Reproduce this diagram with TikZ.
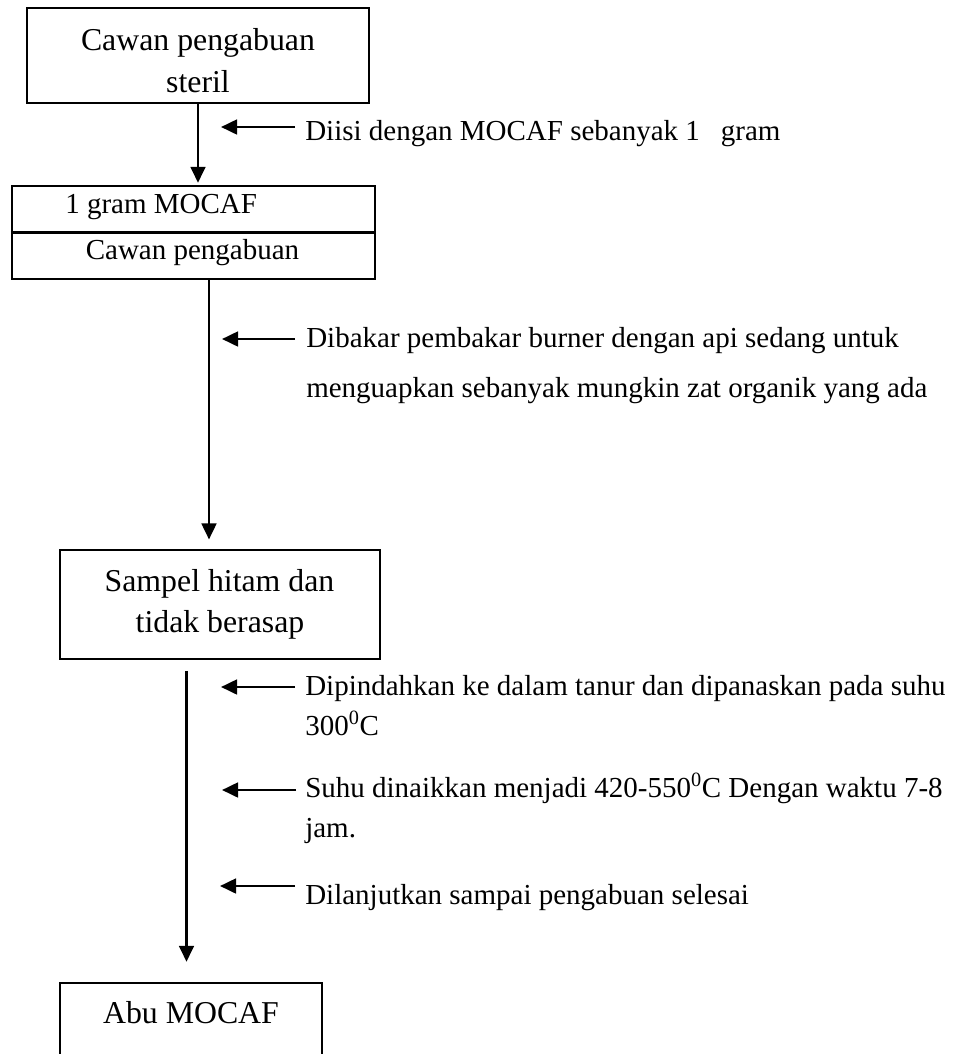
\documentclass[tikz,border=0pt]{standalone}
\usepackage{fontspec}
\setmainfont{Liberation Serif}
\usetikzlibrary{arrows.meta}
\begin{document}
\begin{tikzpicture}[x=0.75pt,y=-0.75pt,
  box/.style={draw, line width=1.8pt, rectangle, inner sep=0},
  big/.style={font=\fontsize{23.85}{28}\selectfont, inner sep=0, anchor=base},
  small/.style={font=\fontsize{21.75}{26}\selectfont, inner sep=0, anchor=base west},
  smallc/.style={font=\fontsize{21.75}{26}\selectfont, inner sep=0, anchor=base},
  flow/.style={line width=2pt, -{Triangle[length=12pt,width=11pt]}},
  side/.style={line width=2pt, -{Triangle[length=12pt,width=11pt]}}]

\useasboundingbox (0,0) rectangle (957,1054);
\clip (0,0) rectangle (957,1054);

% process boxes
\node[box, minimum width=256.5pt, minimum height=71.25pt] (b1) at (198,55.5) {};
\node[box, minimum width=272.25pt, minimum height=69.75pt] (b2) at (193.5,232.5) {};
\draw[line width=1.8pt] (b2.west) -- (b2.east);
\node[box, minimum width=240pt, minimum height=81.75pt] (b3) at (220,604.5) {};
\node[box, minimum width=196.5pt, minimum height=87.75pt] (b4) at (191,1041.5) {};

% box texts
\node[big] (b1l1) at (198,50) {Cawan pengabuan};
\node[big] (b1l2) at (198,92) {steril};
\node[small] (b2l1) at (65,213) {1 gram MOCAF};
\node[smallc] (b2l2) at (192.5,259) {Cawan pengabuan};
\node[big] (b3l1) at (219.5,591) {Sampel hitam dan};
\node[big] (b3l2) at (220,632) {tidak berasap};
\node[big] (b4l1) at (191,1023) {Abu MOCAF};

% main flow
\coordinate (a2x) at (209,0);
\coordinate (a3x) at (186.5,0);
\draw[flow] (b1.south) -- ([yshift=1.5pt]b1.south |- b2.north);
\draw[flow] (b2.south -| a2x) -- ([yshift=7pt]b3.north -| a2x);
\draw[flow] ([yshift=-8pt]b3.south -| a3x) -- ([yshift=15pt]b4.north -| a3x);

% step notes
\node[small] (n1) at (305,140) {Diisi dengan MOCAF sebanyak 1\hspace{15.75pt}gram};
\node[small] (n2a) at (306,347) {Dibakar pembakar burner dengan api sedang untuk};
\node[small] (n2b) at (306,397) {menguapkan sebanyak mungkin zat organik yang ada};
\node[small] (n3a) at (305,695) {Dipindahkan ke dalam tanur dan dipanaskan pada suhu};
\node[small] (n3b) at (305,735) {300\textsuperscript{0}C};
\node[small] (n4a) at (305,797) {Suhu dinaikkan menjadi 420-550\textsuperscript{0}C Dengan waktu 7-8};
\node[small] (n4b) at (305,837) {jam.};
\node[small] (n5) at (305,904) {Dilanjutkan sampai pengabuan selesai};

% note arrows
\coordinate (s1) at (295,127); \coordinate (e1) at (221,127);
\coordinate (s2) at (295,339); \coordinate (e2) at (222,339);
\coordinate (s3) at (295,687); \coordinate (e3) at (221,687);
\coordinate (s4) at (296,790); \coordinate (e4) at (222,790);
\coordinate (s5) at (295,886); \coordinate (e5) at (220,886);
\draw[side] (s1) -- (e1);
\draw[side] (s2) -- (e2);
\draw[side] (s3) -- (e3);
\draw[side] (s4) -- (e4);
\draw[side] (s5) -- (e5);
\end{tikzpicture}
\end{document}
